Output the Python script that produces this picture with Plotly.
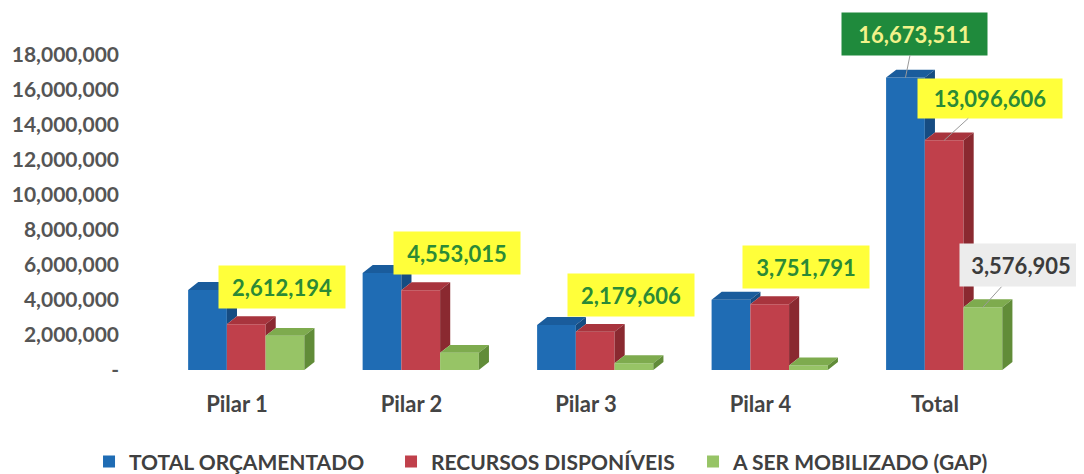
import plotly.graph_objects as go

# ---------------- data ----------------
categories = ["Pilar 1", "Pilar 2", "Pilar 3", "Pilar 4", "Total"]
total_orcamentado = [4562194, 5533015, 2569606, 4008696, 16673511]
recursos_disponiveis = [2612194, 4553015, 2179606, 3751791, 13096606]
a_ser_mobilizado = [1950000, 980000, 390000, 256905, 3576905]
series_names = ["TOTAL ORÇAMENTADO", "RECURSOS DISPONÍVEIS", "A SER MOBILIZADO (GAP)"]
y_tick_values = [0, 2000000, 4000000, 6000000, 8000000, 10000000,
                 12000000, 14000000, 16000000, 18000000]
y_tick_labels = ["-", "2,000,000", "4,000,000", "6,000,000", "8,000,000",
                 "10,000,000", "12,000,000", "14,000,000", "16,000,000", "18,000,000"]

# ---------------- style ----------------
front_colors = ["#1f6cb4", "#c0404b", "#97c466"]
top_colors = ["#1a5c9c", "#a8343d", "#7eab4e"]
side_colors = ["#164c82", "#8a2930", "#618c38"]
bar_w = 0.222
offsets = [-0.28, -0.058, 0.164]
depth_x = 0.058
depth_y = 0.45e6

series = [total_orcamentado, recursos_disponiveis, a_ser_mobilizado]
xpos = list(range(len(categories)))

fig = go.Figure()

for i, (name, vals) in enumerate(zip(series_names, series)):
    fig.add_trace(go.Bar(
        x=xpos, y=vals, name=name, width=bar_w, offset=offsets[i],
        marker=dict(color=front_colors[i], line=dict(width=0)),
        hoverinfo="y",
    ))

# 3D-like top and side faces computed from the data
for i, vals in enumerate(series):
    tx, ty, sx, sy = [], [], [], []
    for j, v in enumerate(vals):
        xl = xpos[j] + offsets[i]
        xr = xl + bar_w
        tx += [xl, xl + depth_x, xr + depth_x, xr, xl, None]
        ty += [v, v + depth_y, v + depth_y, v, v, None]
        base = series[i + 1][j] if i < len(series) - 1 else 0
        if base < v:
            sx += [xr, xr + depth_x, xr + depth_x, xr, xr, None]
            sy += [base, base + depth_y, v + depth_y, v, base, None]
    fig.add_trace(go.Scatter(x=tx, y=ty, mode="lines", fill="toself",
                             fillcolor=top_colors[i], line=dict(width=0, color=top_colors[i]),
                             showlegend=False, hoverinfo="skip"))
    fig.add_trace(go.Scatter(x=sx, y=sy, mode="lines", fill="toself",
                             fillcolor=side_colors[i], line=dict(width=0, color=side_colors[i]),
                             showlegend=False, hoverinfo="skip"))

# ---------------- labels ----------------
green_txt = "#2b8a36"
yellow_bg = "#ffff3a"
annos = []
for j in range(4):
    v = recursos_disponiveis[j]
    annos.append(dict(x=xpos[j] + offsets[1] + bar_w / 2, y=v, text=f"{v:,}", arrow=False,
                      ax=36, ay=-37, bgcolor=yellow_bg, color=green_txt, w=124, h=40))
annos.append(dict(x=xpos[4] + offsets[0] + bar_w / 2, y=total_orcamentado[4], arrow=True,
                  text=f"{total_orcamentado[4]:,}", ax=9, ay=-44,
                  bgcolor="#1f8a3c", color="#f2f28a", w=143, h=40))
annos.append(dict(x=xpos[4] + offsets[1] + bar_w / 2, y=recursos_disponiveis[4], arrow=True,
                  text=f"{recursos_disponiveis[4]:,}", ax=46, ay=-42,
                  bgcolor=yellow_bg, color=green_txt, w=142, h=37))
annos.append(dict(x=xpos[4] + offsets[2] + bar_w / 2, y=a_ser_mobilizado[4], arrow=True,
                  text=f"{a_ser_mobilizado[4]:,}", ax=38, ay=-42,
                  bgcolor="#ececec", color="#3b3b3b", w=120, h=40))

for a in annos:
    common = dict(x=a["x"], y=a["y"], xref="x", yref="y", text=a["text"],
                  bgcolor=a["bgcolor"], width=a["w"], height=a["h"],
                  font=dict(family="Lato", size=22, color=a["color"], weight="bold"),
                  align="center", valign="middle")
    if a["arrow"]:
        fig.add_annotation(showarrow=True, arrowhead=0, arrowwidth=1, arrowcolor="#9a9a9a",
                           ax=a["ax"], ay=a["ay"], **common)
    else:
        fig.add_annotation(showarrow=False, xshift=a["ax"], yshift=-a["ay"], **common)

fig.update_layout(
    width=1076, height=466,
    margin=dict(l=112, r=14, t=20, b=104, autoexpand=False),
    paper_bgcolor="white", plot_bgcolor="white",
    barmode="overlay",
    showlegend=True,
    legend=dict(orientation="h", xref="container", x=0.0753, yref="container",
                yanchor="middle", y=0.026,
                font=dict(family="Lato", size=21, color="#404040", weight="bold"),
                itemwidth=30, traceorder="normal", entrywidth=257, entrywidthmode="pixels"),
    xaxis=dict(range=[-0.6705, 4.774], tickmode="array", tickvals=xpos, ticktext=categories,
               showgrid=False, zeroline=False, showline=False, ticks="",
               ticklabelstandoff=19,
               tickfont=dict(family="Lato", size=22, color="#444444", weight="bold")),
    yaxis=dict(range=[0, 19.5e6], tickmode="array", tickvals=y_tick_values, ticktext=y_tick_labels,
               showgrid=False, zeroline=False, showline=False, ticks="",
               tickfont=dict(family="Lato", size=21, color="#555555", weight="bold")),
)

fig.write_html("out.html")
